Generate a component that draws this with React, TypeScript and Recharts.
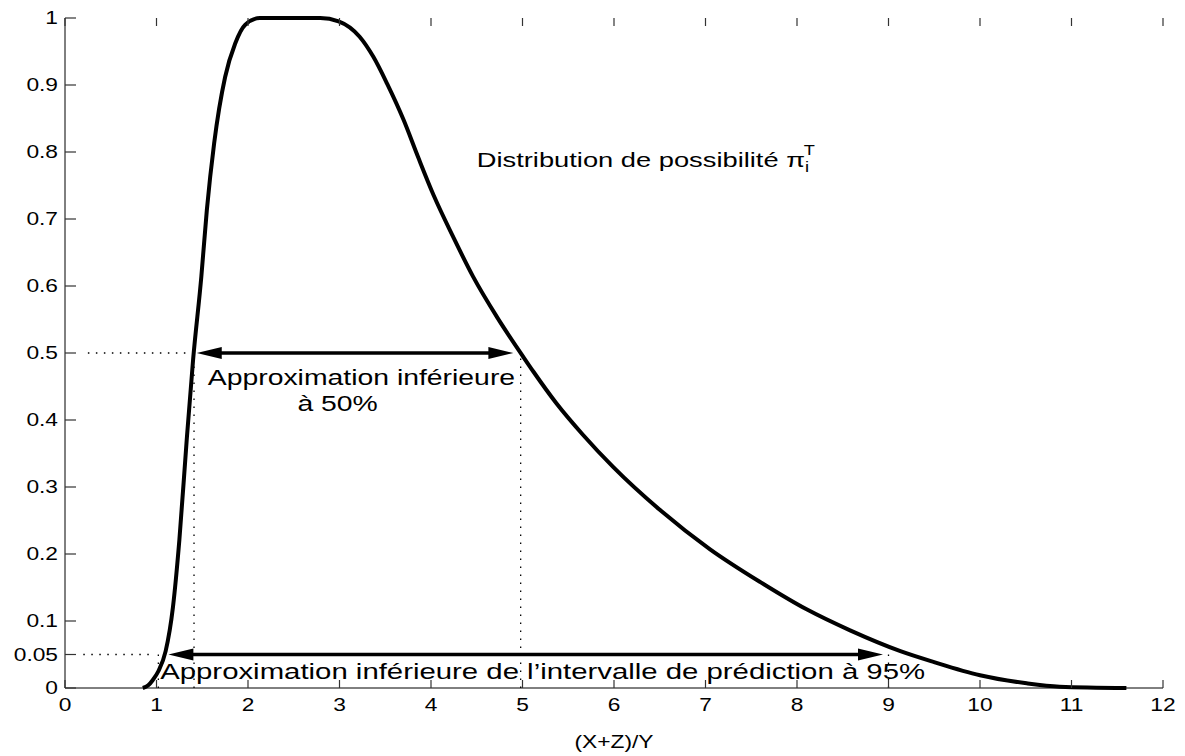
import {
  LineChart, Line, XAxis, YAxis, ReferenceLine, ReferenceDot,
} from "recharts";

// possibility distribution
const xs = [0.85, 0.91, 0.96, 1.02, 1.1, 1.18, 1.25, 1.33, 1.4, 1.49, 1.55, 1.63, 1.75, 1.86, 1.97, 2.13, 2.4, 2.79, 2.99, 3.22, 3.37, 3.52, 3.7, 3.86, 4.03, 4.24, 4.46, 4.72, 5.01, 5.12, 5.37, 5.66, 5.99, 6.5, 7.05, 7.6, 8.11, 8.58, 9.13, 9.49, 10.0, 10.51, 10.87, 11.6];
const pis = [0, 0.004, 0.012, 0.025, 0.055, 0.121, 0.221, 0.37, 0.49, 0.614, 0.713, 0.813, 0.912, 0.962, 0.99, 1, 1, 1, 0.995, 0.972, 0.942, 0.902, 0.848, 0.792, 0.735, 0.674, 0.614, 0.554, 0.494, 0.472, 0.425, 0.378, 0.33, 0.266, 0.207, 0.158, 0.117, 0.086, 0.055, 0.039, 0.019, 0.007, 0.002, 0];

const xTicks = [0, 1, 2, 3, 4, 5, 6, 7, 8, 9, 10, 11, 12];
const yTicks = [0, 0.05, 0.1, 0.2, 0.3, 0.4, 0.5, 0.6, 0.7, 0.8, 0.9, 1];

// interval bounds (dotted guides) and arrow ends
const cut50 = 0.5;
const cut95 = 0.05;
const guide50 = [1.41, 4.98];
const guide95 = [1.02, 9.0];
const arrow50 = [1.44, 4.9];
const arrow95 = [1.13, 8.94];

const FONT = "'Liberation Sans', Arial, Helvetica, sans-serif";
const MARGIN = { top: 10, right: 22, left: 0, bottom: 8 };

const data = xs.map((x, i) => ({ x, y: pis[i] }));

function StretchText({ x, y, size, sx, anchor = "start", children }: any) {
  return (
    <text
      transform={`translate(${x},${y}) scale(${sx},1)`}
      fontFamily={FONT}
      fontSize={size}
      textAnchor={anchor}
      dominantBaseline="central"
      fill="#000"
    >
      {children}
    </text>
  );
}

// inward ticks, longer horizontally like the stretched original
const TX = 8;
const TY = 11;
const TICK_COLOR = "#333";
const BottomTick = (p: any) => (
  <g>
    <line x1={p.x} y1={p.y} x2={p.x} y2={p.y - TX} stroke={TICK_COLOR} strokeWidth={1.2} />
    {/* matching tick on the top edge of the frame */}
    <line x1={p.x} y1={MARGIN.top} x2={p.x} y2={MARGIN.top + TX} stroke={TICK_COLOR} strokeWidth={1.2} />
    <StretchText x={p.x} y={p.y + 17} size={17.5} sx={1.3} anchor="middle">{p.payload.value}</StretchText>
  </g>
);
const LeftTick = (p: any) => (
  <g>
    <line x1={p.x} y1={p.y} x2={p.x + TY} y2={p.y} stroke={TICK_COLOR} strokeWidth={1.2} />
    <StretchText x={p.x - 7} y={p.y} size={17.5} sx={1.3} anchor="end">{String(p.payload.value)}</StretchText>
  </g>
);
const RightTick = (p: any) => <line x1={p.x} y1={p.y} x2={p.x - TY} y2={p.y} stroke={TICK_COLOR} strokeWidth={1.2} />;

function Arrow(p: any) {
  const L = 25, W = 6;
  const a = Math.min(p.x1, p.x2), b = Math.max(p.x1, p.x2), y = p.y1;
  return (
    <g>
      <line x1={a + L - 2} y1={y} x2={b - L + 2} y2={y} stroke="#000" strokeWidth={3.5} />
      <polygon points={`${a},${y} ${a + L},${y - W} ${a + L},${y + W}`} fill="#000" />
      <polygon points={`${b},${y} ${b - L},${y - W} ${b - L},${y + W}`} fill="#000" />
    </g>
  );
}

const dotted = { stroke: "#000", strokeWidth: 1.3, strokeDasharray: "1.5 6.5" };

export default function App() {
  return (
    <LineChart width={1177} height={748} data={data} margin={MARGIN}>
      <XAxis
        dataKey="x" type="number" domain={[0, 12]} ticks={xTicks} interval={0}
        height={60} tickSize={0} tickMargin={0} tickLine={false} tick={<BottomTick />}
        axisLine={{ stroke: "#000" }}
        label={{
          content: (lp: any) => (
            <StretchText x={lp.viewBox.x + lp.viewBox.width / 2} y={lp.viewBox.y + 53} size={19} sx={1.2} anchor="middle">(X+Z)/Y</StretchText>
          ),
        }}
      />
      <XAxis
        xAxisId="top" orientation="top" dataKey="x" type="number" domain={[0, 12]}
        height={0} tickLine={false} tick={false} axisLine={{ stroke: "#000" }}
      />
      <YAxis
        type="number" domain={[0, 1]} ticks={yTicks} interval={0} width={57}
        tickSize={0} tickMargin={0} tickLine={false} tick={<LeftTick />} axisLine={{ stroke: "#000" }}
      />
      <YAxis
        yAxisId="right" orientation="right" type="number" domain={[0, 1]} ticks={yTicks} interval={0} width={0}
        tickSize={0} tickMargin={0} tickLine={false} tick={<RightTick />} axisLine={{ stroke: "#000" }}
      />

      <ReferenceLine segment={[{ x: 0.25, y: cut50 }, { x: 1.35, y: cut50 }]} {...dotted} />
      <ReferenceLine segment={[{ x: 0.2, y: cut95 }, { x: 0.95, y: cut95 }]} {...dotted} />
      <ReferenceLine segment={[{ x: guide50[0], y: 0 }, { x: guide50[0], y: cut50 }]} {...dotted} />
      <ReferenceLine segment={[{ x: guide50[1], y: 0 }, { x: guide50[1], y: cut50 }]} {...dotted} />
      <ReferenceLine segment={[{ x: guide95[0], y: 0 }, { x: guide95[0], y: cut95 }]} {...dotted} />
      <ReferenceLine segment={[{ x: guide95[1], y: 0 }, { x: guide95[1], y: cut95 }]} {...dotted} />

      <ReferenceLine segment={[{ x: arrow50[0], y: cut50 }, { x: arrow50[1], y: cut50 }]} shape={(p: any) => <Arrow {...p} />} />
      <ReferenceLine segment={[{ x: arrow95[0], y: cut95 }, { x: arrow95[1], y: cut95 }]} shape={(p: any) => <Arrow {...p} />} />

      <Line dataKey="y" type="monotone" stroke="#000" strokeWidth={4} dot={false} isAnimationActive={false} />

      <ReferenceDot x={1.56} y={0.463} r={0} shape={(p: any) => (
        <StretchText x={p.cx} y={p.cy} size={21.5} sx={1.32}>Approximation inférieure</StretchText>
      )} />
      <ReferenceDot x={2.54} y={0.425} r={0} shape={(p: any) => (
        <StretchText x={p.cx} y={p.cy} size={21.5} sx={1.32}>à 50%</StretchText>
      )} />
      <ReferenceDot x={1.04} y={0.024} r={0} shape={(p: any) => (
        <StretchText x={p.cx} y={p.cy} size={21.5} sx={1.365}>Approximation inférieure de l’intervalle de prédiction à 95%</StretchText>
      )} />
      <ReferenceDot x={4.5} y={0.788} r={0} shape={(p: any) => (
        <StretchText x={p.cx} y={p.cy} size={21} sx={1.3}>
          Distribution de possibilité π
          <tspan dy={7} fontSize={14}>i</tspan>
          <tspan dx={-4} dy={-17} fontSize={14}>T</tspan>
        </StretchText>
      )} />
    </LineChart>
  );
}
